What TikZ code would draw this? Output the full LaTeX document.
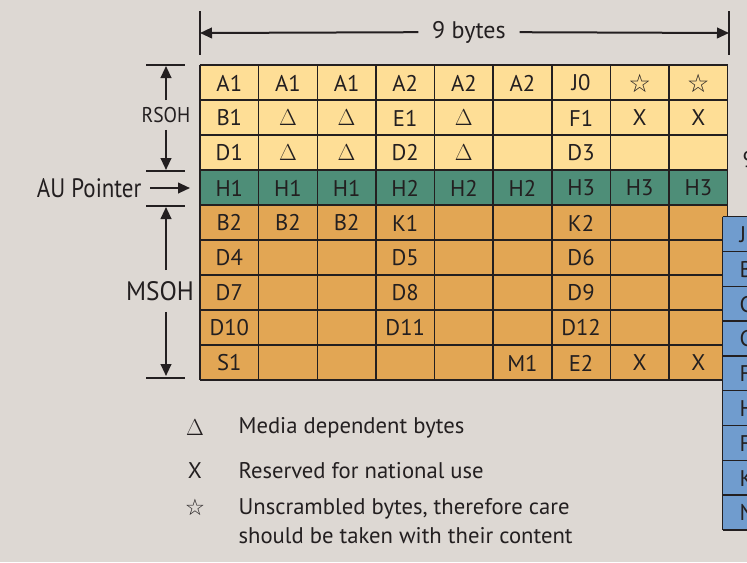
\documentclass[tikz,border=0pt]{standalone}
\usepackage{fontspec}
\setmainfont{PT Sans}
\newfontfamily\symfont{DejaVu Sans}
\usetikzlibrary{arrows.meta}
\definecolor{bgcol}{RGB}{221,216,211}
\definecolor{rsohcol}{RGB}{254,222,150}
\definecolor{aucol}{RGB}{78,142,120}
\definecolor{msohcol}{RGB}{226,166,84}
\definecolor{blucol}{RGB}{112,156,206}
\definecolor{inkcol}{RGB}{35,31,32}
\newcommand{\ustar}{{\symfont\fontsize{19}{20}\selectfont ☆}}
\newcommand{\mdb}{$\Delta$}
\tikzset{every picture/.style={line width=0.9pt}}
\tikzset{
  cellline/.style={draw=inkcol,line width=1.1pt},
  celltext/.style={inner sep=0.75pt,text=inkcol,font=\fontsize{17}{20}\selectfont},
  dimline/.style={draw=inkcol,line width=1.5pt},
  dimarrow/.style={draw=inkcol,line width=1.5pt,-{Triangle[length=9pt,width=8pt]}},
  sidetext/.style={inner sep=0.75pt,text=inkcol},
  legtext/.style={inner sep=0.75pt,text=inkcol,font=\fontsize{17}{21.75}\selectfont}
}

\begin{document}
\begin{tikzpicture}[x=0.75pt,y=0.75pt,yscale=-1]
\useasboundingbox (0,0) rectangle (747,562);
\fill[bgcol] (0,0) rectangle (747,562);
\clip (0,0) rectangle (747,562);
%Frame bands
\fill[rsohcol] (200,65) rectangle (727.7,170);
\fill[aucol] (200,170) rectangle (727.7,205);
\fill[msohcol] (200,205) rectangle (727.7,380);
%Grid
\foreach \i in {0,...,9} \draw[cellline] (200+\i*58.63,65) -- (200+\i*58.63,380);
\foreach \j in {0,...,9} \draw[cellline] (200,65+\j*35) -- (727.7,65+\j*35);
% Cell Text
\foreach \row [count=\r from 0] in {
  {A1,A1,A1,A2,A2,A2,J0,\ustar,\ustar},
  {B1,\mdb,\mdb,E1,\mdb,{},F1,X,X},
  {D1,\mdb,\mdb,D2,\mdb,{},D3,{},{}},
  {H1,H1,H1,H2,H2,H2,H3,H3,H3},
  {B2,B2,B2,K1,{},{},K2,{},{}},
  {D4,{},{},D5,{},{},D6,{},{}},
  {D7,{},{},D8,{},{},D9,{},{}},
  {D10,{},{},D11,{},{},D12,{},{}},
  {S1,{},{},{},{},M1,E2,X,X}}
  \foreach \lbl [count=\c from 0] in \row
    \node[celltext] (c\r-\c) at (229.3+\c*58.63,83+\r*35) {\lbl};
%Next column (cut off)
\fill[blucol] (722.7,216.7) rectangle (760,530);
\foreach \j in {0,...,9} \draw[cellline] (722.7,216.7+\j*34.8) -- (760,216.7+\j*34.8);
\draw[cellline] (722.7,216.7) -- (722.7,530);
\foreach \l [count=\k from 0] in {J,B,C,C,F,H,F,K,N}
  \node[celltext,anchor=west] (b\k) at (738,234.6+\k*34.8) {\l};
\node[celltext,anchor=west] (nine) at (741,160) {9};
%Width
\coordinate (wl) at (200,33);
\coordinate (wr) at (729,33);
\draw[dimline] (200,11) -- (200,55);
\draw[dimline] (729,11) -- (729,55);
\node[celltext,inner xsep=10pt,font=\fontsize{18}{20}\selectfont] (wtext) at (469,32) {9 bytes};
\draw[dimarrow] (wtext) -- (wl);
\draw[dimarrow] (wtext) -- (wr);
%RSOH
\coordinate (rtop) at (166,66);
\coordinate (rbot) at (166,170);
\draw[dimline] (146,65) -- (185,65);
\draw[dimline] (146,171) -- (185,171);
\node[sidetext,inner ysep=5pt,font=\fontsize{16}{18}\selectfont] (rsoh) at (166,115) {\scalebox{0.92}[1]{RSOH}};
\draw[dimarrow] (rsoh.north) -- (rtop);
\draw[dimarrow] (rsoh.south) -- (rbot);
%AU pointer
\coordinate (aupt) at (190,188);
\node[sidetext,anchor=east,font=\fontsize{20}{22}\selectfont] (aup) at (143,188) {\scalebox{0.86}[1]{AU Pointer}};
\draw[dimarrow] (aup.east) ++(7,0) -- (aupt);
%MSOH
\coordinate (mtop) at (166,207);
\coordinate (mbot) at (166,376);
\draw[dimline] (146,206) -- (185,206);
\draw[dimline] (146,378) -- (185,378);
\node[sidetext,inner ysep=8pt,font=\fontsize{20}{22}\selectfont] (msoh) at (160,291) {\scalebox{0.95}[1]{MSOH}};
\draw[dimarrow] (msoh.north -| mtop) -- (mtop);
\draw[dimarrow] (msoh.south -| mbot) -- (mbot);
%Legend
\node[legtext] (ksym1) at (195,428) {\mdb};
\node[legtext] (ksym2) at (195,471) {X};
\node[legtext] (ksym3) at (195,507) {{\symfont\fontsize{17}{18}\selectfont ☆}};
\node[legtext,anchor=base west] (key1) at (237,433) {Media dependent bytes};
\node[legtext,anchor=base west] (key2) at (237,478) {Reserved for national use};
\node[legtext,anchor=north west,align=left] (key3) at (237,497) {Unscrambled bytes, therefore care\\should be taken with their content};
\end{tikzpicture}
\end{document}
